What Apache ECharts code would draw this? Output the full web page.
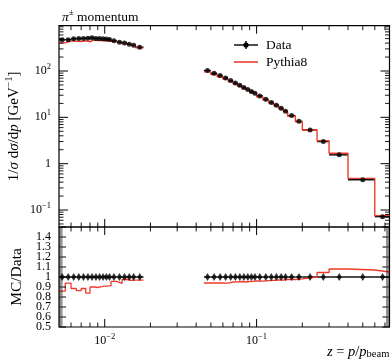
<!DOCTYPE html>
<html><head><meta charset="utf-8">
<script src="https://cdn.jsdelivr.net/npm/echarts@6/dist/echarts.min.js"></script>
<style>html,body{margin:0;padding:0;background:#fff}#c{width:392px;height:359px}</style>
</head><body><div id="c"></div><script>
// ---- data ----
const lowEdges = [0.005,0.0055,0.006,0.0065,0.007,0.0075,0.008,0.0085,0.009,0.0095,0.010,0.0105,0.011,0.012,0.013,0.014,0.015,0.016,0.018];
const lowData  = [470,475,495,500,505,510,520,505,500,495,490,480,450,420,400,380,360,325];
const lowMC    = [404,446,438,432,447,428,468,452,452,450,446,439,430,393,390,367,349,315];
const highEdges = [0.045,0.05,0.055,0.06,0.065,0.07,0.075,0.08,0.085,0.09,0.095,0.1,0.11,0.12,0.13,0.14,0.15,0.16,0.18,0.2,0.25,0.3,0.4,0.6,0.75];
const highData  = [102,89,80,71,62,55,49,44,40,36,33,29,24.5,21,18.3,15.8,13.6,10.9,8.2,5.35,3.0,1.55,0.45,0.072];
const highMC    = [95.9,83.7,75.2,66.7,58.9,52.3,46.8,41.8,38.2,34.4,31.7,27.8,23.6,20.3,17.75,15.3,13.26,10.63,8.04,5.35,3.135,1.674,0.4815,0.0756];

// ---- axes / ticks ----
const xRange = [0.005, 0.75];
const yRange = [0.043, 950];
const ratioRange = [0.5, 1.5];
const xTickValues = [0.01, 0.1];
const xTickLabels = ['{b|10}{s|−2}', '{b|10}{s|−1}'];
const yTickValues = [0.1, 1, 10, 100];
const yTickLabels = ['{b|10}{s|−1}', '{b|1}', '{b|10}{s|1}', '{b|10}{s|2}'];
const ratioTickValues = [0.5,0.6,0.7,0.8,0.9,1.0,1.1,1.2,1.3,1.4];
const ratioTickLabels = ['0.5','0.6','0.7','0.8','0.9','1','1.1','1.2','1.3','1.4'];

const SERIF = "'Liberation Serif','DejaVu Serif',serif";
const RED = '#ee3b2b';

function minorLog(range){
  const out=[];
  for(let d=-4; d<=4; d++) for(let k=2;k<=9;k++){ const v=k*Math.pow(10,d); if(v>range[0]*1.0001 && v<range[1]*0.9999) out.push(v); }
  return out;
}
const xMinor = minorLog(xRange);
const yMinor = minorLog(yRange);
const ratioMajor = []; for(let i=0;i<=10;i++) ratioMajor.push(+(0.5+i*0.1).toFixed(2));
const ratioMinor = []; for(let i=0;i<=100;i++){ if(i%10) ratioMinor.push(+(0.5+i*0.01).toFixed(3)); }

const lowRatio = lowMC.map((m,i)=>m/lowData[i]);
const highRatio = highMC.map((m,i)=>m/highData[i]);

function centers(edges){ return edges.slice(0,-1).map((e,i)=>(e+edges[i+1])/2); }
function stepPts(edges, vals){ const p = vals.map((v,i)=>[edges[i], v]); p.push([edges[edges.length-1], vals[vals.length-1]]); return p; }
function barItems(edges, vals){ return vals.map((v,i)=>[edges[i], edges[i+1], v]); }
function ptItems(edges, vals){ const c=centers(edges); return vals.map((v,i)=>[c[i], v]); }

const labelRich = {
  b:{fontFamily:SERIF, fontSize:12, lineHeight:18, verticalAlign:'middle', color:'#000'},
  s:{fontFamily:SERIF, fontSize:8.5, lineHeight:8, verticalAlign:'top', color:'#000'}
};

function errbarSeries(xi, edges, vals){
  return {type:'custom', xAxisIndex:xi, yAxisIndex:xi, encode:{x:[0,1], y:2}, z:3,
    data: barItems(edges, vals),
    renderItem(params, api){
      const a = api.coord([api.value(0), api.value(2)]);
      const b = api.coord([api.value(1), api.value(2)]);
      return {type:'line', shape:{x1:a[0],y1:a[1],x2:b[0],y2:b[1]}, style:{stroke:'#000', lineWidth:1.4}};
    }};
}

function ticksSeries(xi, cfg){
  return {type:'custom', xAxisIndex:xi, yAxisIndex:xi, z:10, clip:false, silent:true,
    data:[[0.01, cfg.yRef]],
    renderItem(params, api){
      const cs = params.coordSys;
      const L=cs.x, R=cs.x+cs.width, T=cs.y, B=cs.y+cs.height;
      const ch=[];
      const ln=(x1,y1,x2,y2,w)=>ch.push({type:'line', shape:{x1,y1,x2,y2}, style:{stroke:'#000', lineWidth:w}});
      cfg.xMaj.forEach(v=>{ const x=api.coord([v,cfg.yRef])[0]; ln(x,T,x,T+8,1); ln(x,B,x,B-8,1); });
      cfg.xMin.forEach(v=>{ const x=api.coord([v,cfg.yRef])[0]; ln(x,T,x,T+4.5,0.9); ln(x,B,x,B-4.5,0.9); });
      cfg.yMaj.forEach(v=>{ const y=api.coord([0.01,v])[1]; ln(L,y,L+cfg.yMajLen,y,1); ln(R,y,R-cfg.yMajLen,y,1); });
      cfg.yMin.forEach(v=>{ const y=api.coord([0.01,v])[1]; ln(L,y,L+cfg.yMinLen,y,cfg.yMinW); ln(R,y,R-cfg.yMinLen,y,cfg.yMinW); });
      cfg.yLabV.forEach((v,i)=>{ const y=api.coord([0.01,v])[1];
        ch.push({type:'text', x:L-cfg.yLabGap, y:y, style:{text:cfg.yLabT[i], textAlign:'right', align:'right', textVerticalAlign:'middle', verticalAlign:'middle', fontFamily:SERIF, fontSize:cfg.yLabSize||12, fill:'#000', rich:labelRich}}); });
      (cfg.xLabV||[]).forEach((v,i)=>{ const x=api.coord([v,cfg.yRef])[0];
        ch.push({type:'text', x:x, y:B+14, style:{text:cfg.xLabT[i], textAlign:'center', align:'center', textVerticalAlign:'middle', verticalAlign:'middle', fontFamily:SERIF, fontSize:12, fill:'#000', rich:labelRich}}); });
      return {type:'group', children:ch};
    }};
}

const hiddenAxis = {axisLine:{show:false}, axisTick:{show:false}, axisLabel:{show:false}, splitLine:{show:false}};

const option = {
  animation:false,
  backgroundColor:'#fff',
  title:{text:'{i|π}{s|±}{n| momentum}', left:57, top:3,
    textStyle:{fontFamily:SERIF, fontSize:13.5, fontWeight:'normal', color:'#000',
      rich:{i:{fontFamily:SERIF, fontStyle:'italic', fontSize:13.5, lineHeight:18, verticalAlign:'middle'},
            s:{fontFamily:SERIF, fontSize:9, lineHeight:9, verticalAlign:'top'},
            n:{fontFamily:SERIF, fontSize:13.5, lineHeight:18, verticalAlign:'middle'}}}},
  grid:[
    {left:59, top:25.7, width:330.5, height:201.3, show:true, borderColor:'#000', borderWidth:1.2, containLabel:false, outerBoundsMode:'none'},
    {left:59, top:227, width:330.5, height:100, show:true, borderColor:'#000', borderWidth:1.2, containLabel:false, outerBoundsMode:'none'}
  ],
  xAxis:[
    Object.assign({type:'log', gridIndex:0, min:xRange[0], max:xRange[1]}, hiddenAxis),
    Object.assign({type:'log', gridIndex:1, min:xRange[0], max:xRange[1]}, hiddenAxis)
  ],
  yAxis:[
    Object.assign({type:'log', gridIndex:0, min:yRange[0], max:yRange[1],
      name:'1/{i|σ} d{i|σ}/d{i|p} [GeV{s|−1}]', nameLocation:'middle', nameRotate:90, nameGap:35,
      nameTextStyle:{fontFamily:SERIF, fontSize:15, color:'#000', lineHeight:20,
        rich:{i:{fontFamily:SERIF, fontStyle:'italic', fontSize:15, lineHeight:20, verticalAlign:'middle'},
              s:{fontFamily:SERIF, fontSize:10, lineHeight:10, verticalAlign:'top'}}}}, hiddenAxis),
    Object.assign({type:'value', gridIndex:1, min:ratioRange[0], max:ratioRange[1],
      name:'MC/Data', nameLocation:'middle', nameRotate:90, nameGap:34,
      nameTextStyle:{fontFamily:SERIF, fontSize:15.5, color:'#000'}}, hiddenAxis)
  ],
  graphic:[
    {type:'line', shape:{x1:234,y1:45,x2:258,y2:45}, style:{stroke:'#000', lineWidth:1.4}},
    {type:'line', shape:{x1:246,y1:41,x2:246,y2:49}, style:{stroke:'#000', lineWidth:1.4}},
    {type:'circle', shape:{cx:246, cy:45, r:2.6}, style:{fill:'#000'}},
    {type:'text', x:266, y:45, style:{text:'Data', fontFamily:SERIF, fontSize:13.5, fill:'#000', verticalAlign:'middle', textVerticalAlign:'middle'}},
    {type:'line', shape:{x1:234,y1:62,x2:258,y2:62}, style:{stroke:RED, lineWidth:1.6}},
    {type:'text', x:266, y:62, style:{text:'Pythia8', fontFamily:SERIF, fontSize:13.5, fill:'#000', verticalAlign:'middle', textVerticalAlign:'middle'}},
    {type:'text', x:327, y:352, style:{text:'{i|z} = {i|p}/{i|p}{sub|beam}', fontFamily:SERIF, fontSize:14.5, fill:'#000', verticalAlign:'middle', textVerticalAlign:'middle',
      rich:{i:{fontFamily:SERIF, fontStyle:'italic', fontSize:14.5, lineHeight:16, verticalAlign:'middle'},
            sub:{fontFamily:SERIF, fontSize:10.5, lineHeight:9, verticalAlign:'bottom'}}}}
  ],
  series:[
    // top panel
    {name:'Pythia8', type:'line', xAxisIndex:0, yAxisIndex:0, step:'end', showSymbol:false, z:4,
      lineStyle:{color:RED, width:1.4}, itemStyle:{color:RED}, data:stepPts(lowEdges, lowMC)},
    {name:'Pythia8', type:'line', xAxisIndex:0, yAxisIndex:0, step:'end', showSymbol:false, z:4,
      lineStyle:{color:RED, width:1.4}, itemStyle:{color:RED}, data:stepPts(highEdges, highMC)},
    errbarSeries(0, lowEdges, lowData),
    errbarSeries(0, highEdges, highData),
    {name:'Data', type:'scatter', xAxisIndex:0, yAxisIndex:0, symbol:'circle', symbolSize:5, z:5,
      itemStyle:{color:'#000'}, data:ptItems(lowEdges, lowData).concat(ptItems(highEdges, highData))},
    // ratio panel
    {name:'Pythia8', type:'line', xAxisIndex:1, yAxisIndex:1, step:'end', showSymbol:false, z:4,
      lineStyle:{color:RED, width:1.3}, itemStyle:{color:RED}, data:stepPts(lowEdges, lowRatio)},
    {name:'Pythia8', type:'line', xAxisIndex:1, yAxisIndex:1, step:'end', showSymbol:false, z:4,
      lineStyle:{color:RED, width:1.3}, itemStyle:{color:RED}, data:stepPts(highEdges, highRatio)},
    errbarSeries(1, lowEdges, lowData.map(()=>1)),
    errbarSeries(1, highEdges, highData.map(()=>1)),
    {name:'Data', type:'scatter', xAxisIndex:1, yAxisIndex:1, symbol:'diamond', symbolSize:[5,8], z:5,
      itemStyle:{color:'#000'}, data:ptItems(lowEdges, lowData.map(()=>1)).concat(ptItems(highEdges, highData.map(()=>1)))},
    // frame ticks and labels
    ticksSeries(0, {yRef:1, xMaj:xTickValues, xMin:xMinor, yMaj:yTickValues, yMin:yMinor, yMajLen:9, yMinLen:4.5, yMinW:0.9,
      yLabV:yTickValues, yLabT:yTickLabels, yLabGap:8}),
    ticksSeries(1, {yRef:1, xMaj:xTickValues, xMin:xMinor, yMaj:ratioMajor, yMin:ratioMinor, yMajLen:7, yMinLen:3.5, yMinW:0.5,
      yLabV:ratioTickValues, yLabT:ratioTickLabels, yLabGap:8, xLabV:xTickValues, xLabT:xTickLabels})
  ]
};
const chart = echarts.init(document.getElementById('c'));
chart.setOption(option);
</script></body></html>
